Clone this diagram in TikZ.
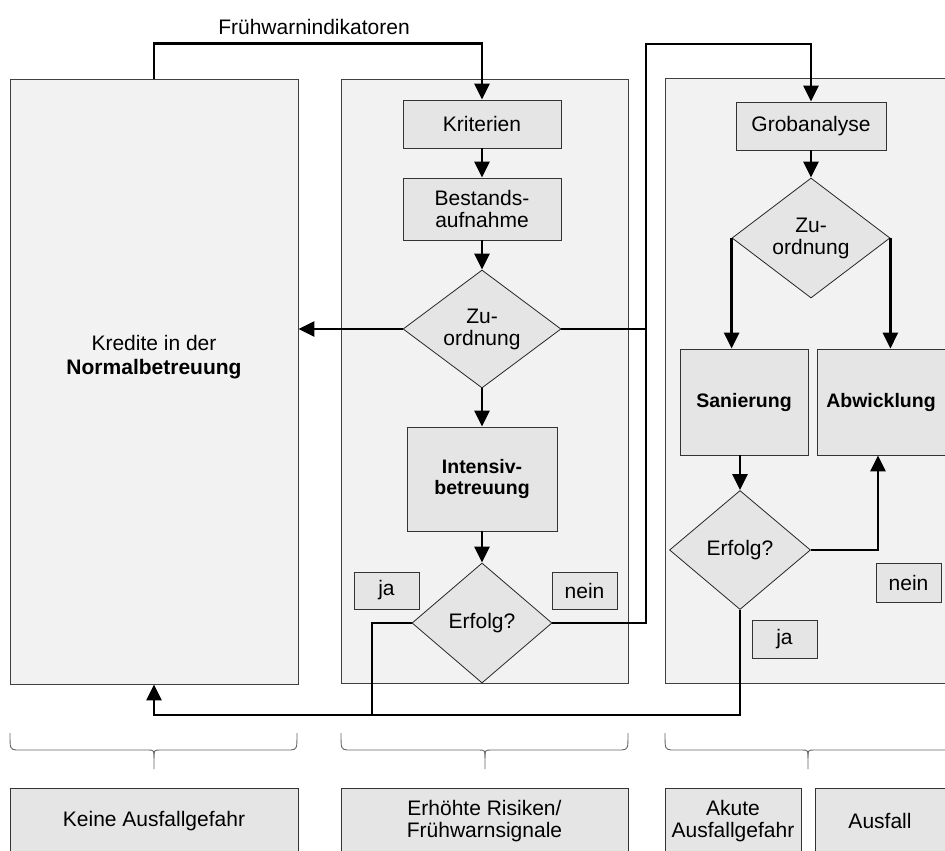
\documentclass[tikz,border=0pt]{standalone}
\usepackage{fontspec}
\setmainfont{Liberation Sans}
\usetikzlibrary{arrows.meta,shapes.geometric}

\begin{document}
\begin{tikzpicture}[x=1pt,y=-1pt]
\tikzset{
  panel/.style={draw=black!75, fill=black!5, line width=0.8pt, inner sep=0pt},
  box/.style={draw=black!80, fill=black!10, line width=0.8pt, inner sep=0pt, align=center, font=\fontsize{21}{22}\selectfont},
  rhomb/.style={diamond, aspect=1.34, draw=black!85, fill=black!10, line width=0.8pt, inner sep=0pt, align=center, font=\fontsize{21}{22}\selectfont},
  flow/.style={line width=2.8pt, -{Triangle[length=16pt,width=15pt]}},
  link/.style={line width=2.8pt},
  brace/.style={draw=black!60, line width=0.9pt},
  bold/.style={font=\fontsize{19.5}{21}\selectfont\bfseries}
}
\clip (0,0) rectangle (945,851);

% the three columns
\node[panel, minimum width=288pt, minimum height=605pt] (lp) at (154,381.5) {};
\node[panel, minimum width=287pt, minimum height=604pt] (mp) at (484.5,381) {};
\node[panel, minimum width=295pt, minimum height=605pt] (rp) at (812.5,380.5) {};
\node[align=center, font=\fontsize{21}{24}\selectfont] (kred) at (154,357) {Kredite in der\\\textbf{Normalbetreuung}};

% middle column
\node[box, minimum width=158pt, minimum height=48pt] (krit) at (482,124) {Kriterien};
\node[box, minimum width=158pt, minimum height=62pt] (best) at (482,209) {Bestands-\\aufnahme};
\node[rhomb, minimum width=158pt, minimum height=118pt] (zu1) at (482,329) {Zu-\\ordnung};
\node[box, bold, minimum width=150pt, minimum height=104pt] (intens) at (482,479) {Intensiv-\\betreuung};
\node[rhomb, minimum width=140pt, minimum height=120pt] (erf1) at (482,623) {Erfolg?};
\node[box, minimum width=65pt, minimum height=37pt] (ja1) at (386.5,590.5) {ja};
\node[box, minimum width=65pt, minimum height=37pt] (nein1) at (584.5,590.5) {nein};

% right column
\node[box, minimum width=150pt, minimum height=48pt] (grob) at (811,126) {Grobanalyse};
\node[rhomb, minimum width=158pt, minimum height=120pt] (zu2) at (811,238) {Zu-\\ordnung};
\node[box, bold, minimum width=128pt, minimum height=106pt] (san) at (744,402) {Sanierung};
\node[box, bold, minimum width=143pt, minimum height=106pt] (abw) at (888.5,402) {\hspace*{-15pt}Abwicklung};
\node[rhomb, minimum width=141pt, minimum height=119pt] (erf2) at (740,550) {Erfolg?};
\node[box, minimum width=65pt, minimum height=39pt] (nein2) at (908.5,582.5) {nein};
\node[box, minimum width=65pt, minimum height=38pt] (ja2) at (784.5,639) {ja};

% bottom row
\node[box, minimum width=288pt, minimum height=66pt] (keine) at (154,821) {Keine Ausfallgefahr};
\node[box, minimum width=287pt, minimum height=66pt] (erh) at (484.5,821) {Erhöhte Risiken/\\Frühwarnsignale};
\node[box, minimum width=136pt, minimum height=66pt] (akut) at (733,821) {Akute\\Ausfallgefahr};
\node[box, minimum width=145pt, minimum height=66pt] (ausf) at (887.5,821) {\hspace*{-15pt}Ausfall};

\coordinate (bend) at (646,44);
\coordinate (back) at (154,715);
\coordinate (jaknee) at (372,715);

% connectors
\node[font=\fontsize{21}{22}\selectfont] (fw) at (314,27) {Frühwarnindikatoren};
\draw[flow] (lp.north) -- ++(0,-35) -| (krit.north);
\foreach \from/\to in {krit/best, best/zu1, zu1/intens, intens/erf1, grob/zu2}
{
  \draw[flow] (\from) -- (\to);
}
\draw[flow] (zu1.west) -- (zu1.west -| lp.east);
\draw[link] (zu1.east) -- (zu1.east -| bend);
\draw[flow] (erf1.east) -| (bend) -| (grob.north);
\draw[flow] (zu2.west) -- (zu2.west |- san.north);
\draw[flow] (zu2.east) -- (zu2.east |- abw.north);
\draw[flow] (erf2.north |- san.south) -- (erf2.north);
\draw[flow] (erf2.east) -| ([xshift=-10.5pt]abw.south);
\draw[flow] (erf2.south) |- (back) -- (lp.south);
\draw[link] (erf1.west) -| (jaknee);

% braces
\foreach \a/\m/\b in {10/154/297, 341/485/628, 665/808/960}
{
  \draw[brace] (\a,733) .. controls (\a,749) .. (\a+6,750) -- (\m-6,750) .. controls (\m,750) .. (\m,758) -- (\m,769);
  \draw[brace] (\b,733) .. controls (\b,749) .. (\b-6,750) -- (\m+6,750) .. controls (\m,750) .. (\m,758);
}
\end{tikzpicture}
\end{document}
